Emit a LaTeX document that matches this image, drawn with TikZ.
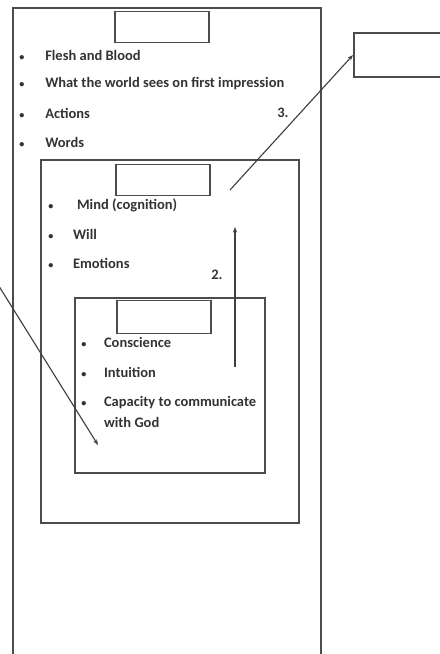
\documentclass[tikz,border=0pt]{standalone}
\usepackage{fontspec}
\setmainfont{Carlito}
\usetikzlibrary{positioning, arrows.meta}

\begin{document}
\begin{tikzpicture}[x=0.025cm, y=-0.025cm,
        box/.style={draw=black!70, line width=1pt},
        titlebox/.style={draw=black!70, line width=1.2pt, inner sep=0pt, minimum width=2.35cm, minimum height=0.78cm},
        entry/.style={anchor=west, inner sep=0pt, font=\bfseries\fontsize{10.3}{14.5}\selectfont, text=black!80},
        conn/.style={draw=black!75, line width=0.8pt, -{Stealth[length=4pt, width=3pt]}}]
        \useasboundingbox (0,0) rectangle (440,654);

        % Outer box: body (open at the bottom)
        \draw[box] (13,660) |- (321,8) -- (321,660);
        \node[titlebox] (bodytitle) at (162,27) {};
        \node[entry] (flesh) at (19,55) {\makebox[0.65cm][l]{\scalebox{0.7}{•}}Flesh and Blood};
        \node[entry] (world) at (19,84) {\makebox[0.65cm][l]{\scalebox{0.7}{•}}What the world sees on first impression};
        \node[entry] (actions) at (19,113) {\makebox[0.65cm][l]{\scalebox{0.7}{•}}Actions};
        \node[entry] (words) at (19,142) {\makebox[0.65cm][l]{\scalebox{0.7}{•}}Words};
        \node[entry, anchor=center] (three) at (283,113) {3.};

        % Middle box: soul
        \draw[box] (41,160) rectangle (299,523);
        \node[titlebox] (soultitle) at (163,180) {};
        \node[entry] (mind) at (48,205) {\makebox[0.72cm][l]{\scalebox{0.7}{•}}Mind (cognition)};
        \node[entry] (will) at (48,234) {\makebox[0.62cm][l]{\scalebox{0.7}{•}}Will};
        \node[entry] (emotions) at (48,263) {\makebox[0.62cm][l]{\scalebox{0.7}{•}}Emotions};
        \node[entry, anchor=center] (two) at (217,275) {2.};

        % Inner box: spirit
        \draw[box] (75,298) rectangle (265,473);
        \node[titlebox, minimum height=0.83cm] (spirittitle) at (164,317) {};
        \node[entry] (conscience) at (81,342) {\makebox[0.57cm][l]{\scalebox{0.7}{•}}Conscience};
        \node[entry] (intuition) at (81,372) {\makebox[0.57cm][l]{\scalebox{0.7}{•}}Intuition};
        \node[entry, align=left] (capacity) at (81,412) {\makebox[0.57cm][l]{\scalebox{0.7}{•}}Capacity to communicate\\\hspace{0.57cm}with God};

        % Right box, cut off by the page edge
        \node[titlebox, anchor=west, minimum width=2.6cm, minimum height=1.1cm] (rbox) at (353,55) {};

        % Arrows
        \coordinate (soulpt) at (230,190);
        \draw[conn] (soulpt) -- (rbox.west);
        \coordinate (lowpt) at (235,367);
        \coordinate (highpt) at (235,227);
        \draw[conn] (lowpt) -- (highpt);
        \coordinate (leftpt) at (-3,283);
        \coordinate (spiritpt) at (98,445);
        \draw[conn] (leftpt) -- (spiritpt);
    \end{tikzpicture}
\end{document}
